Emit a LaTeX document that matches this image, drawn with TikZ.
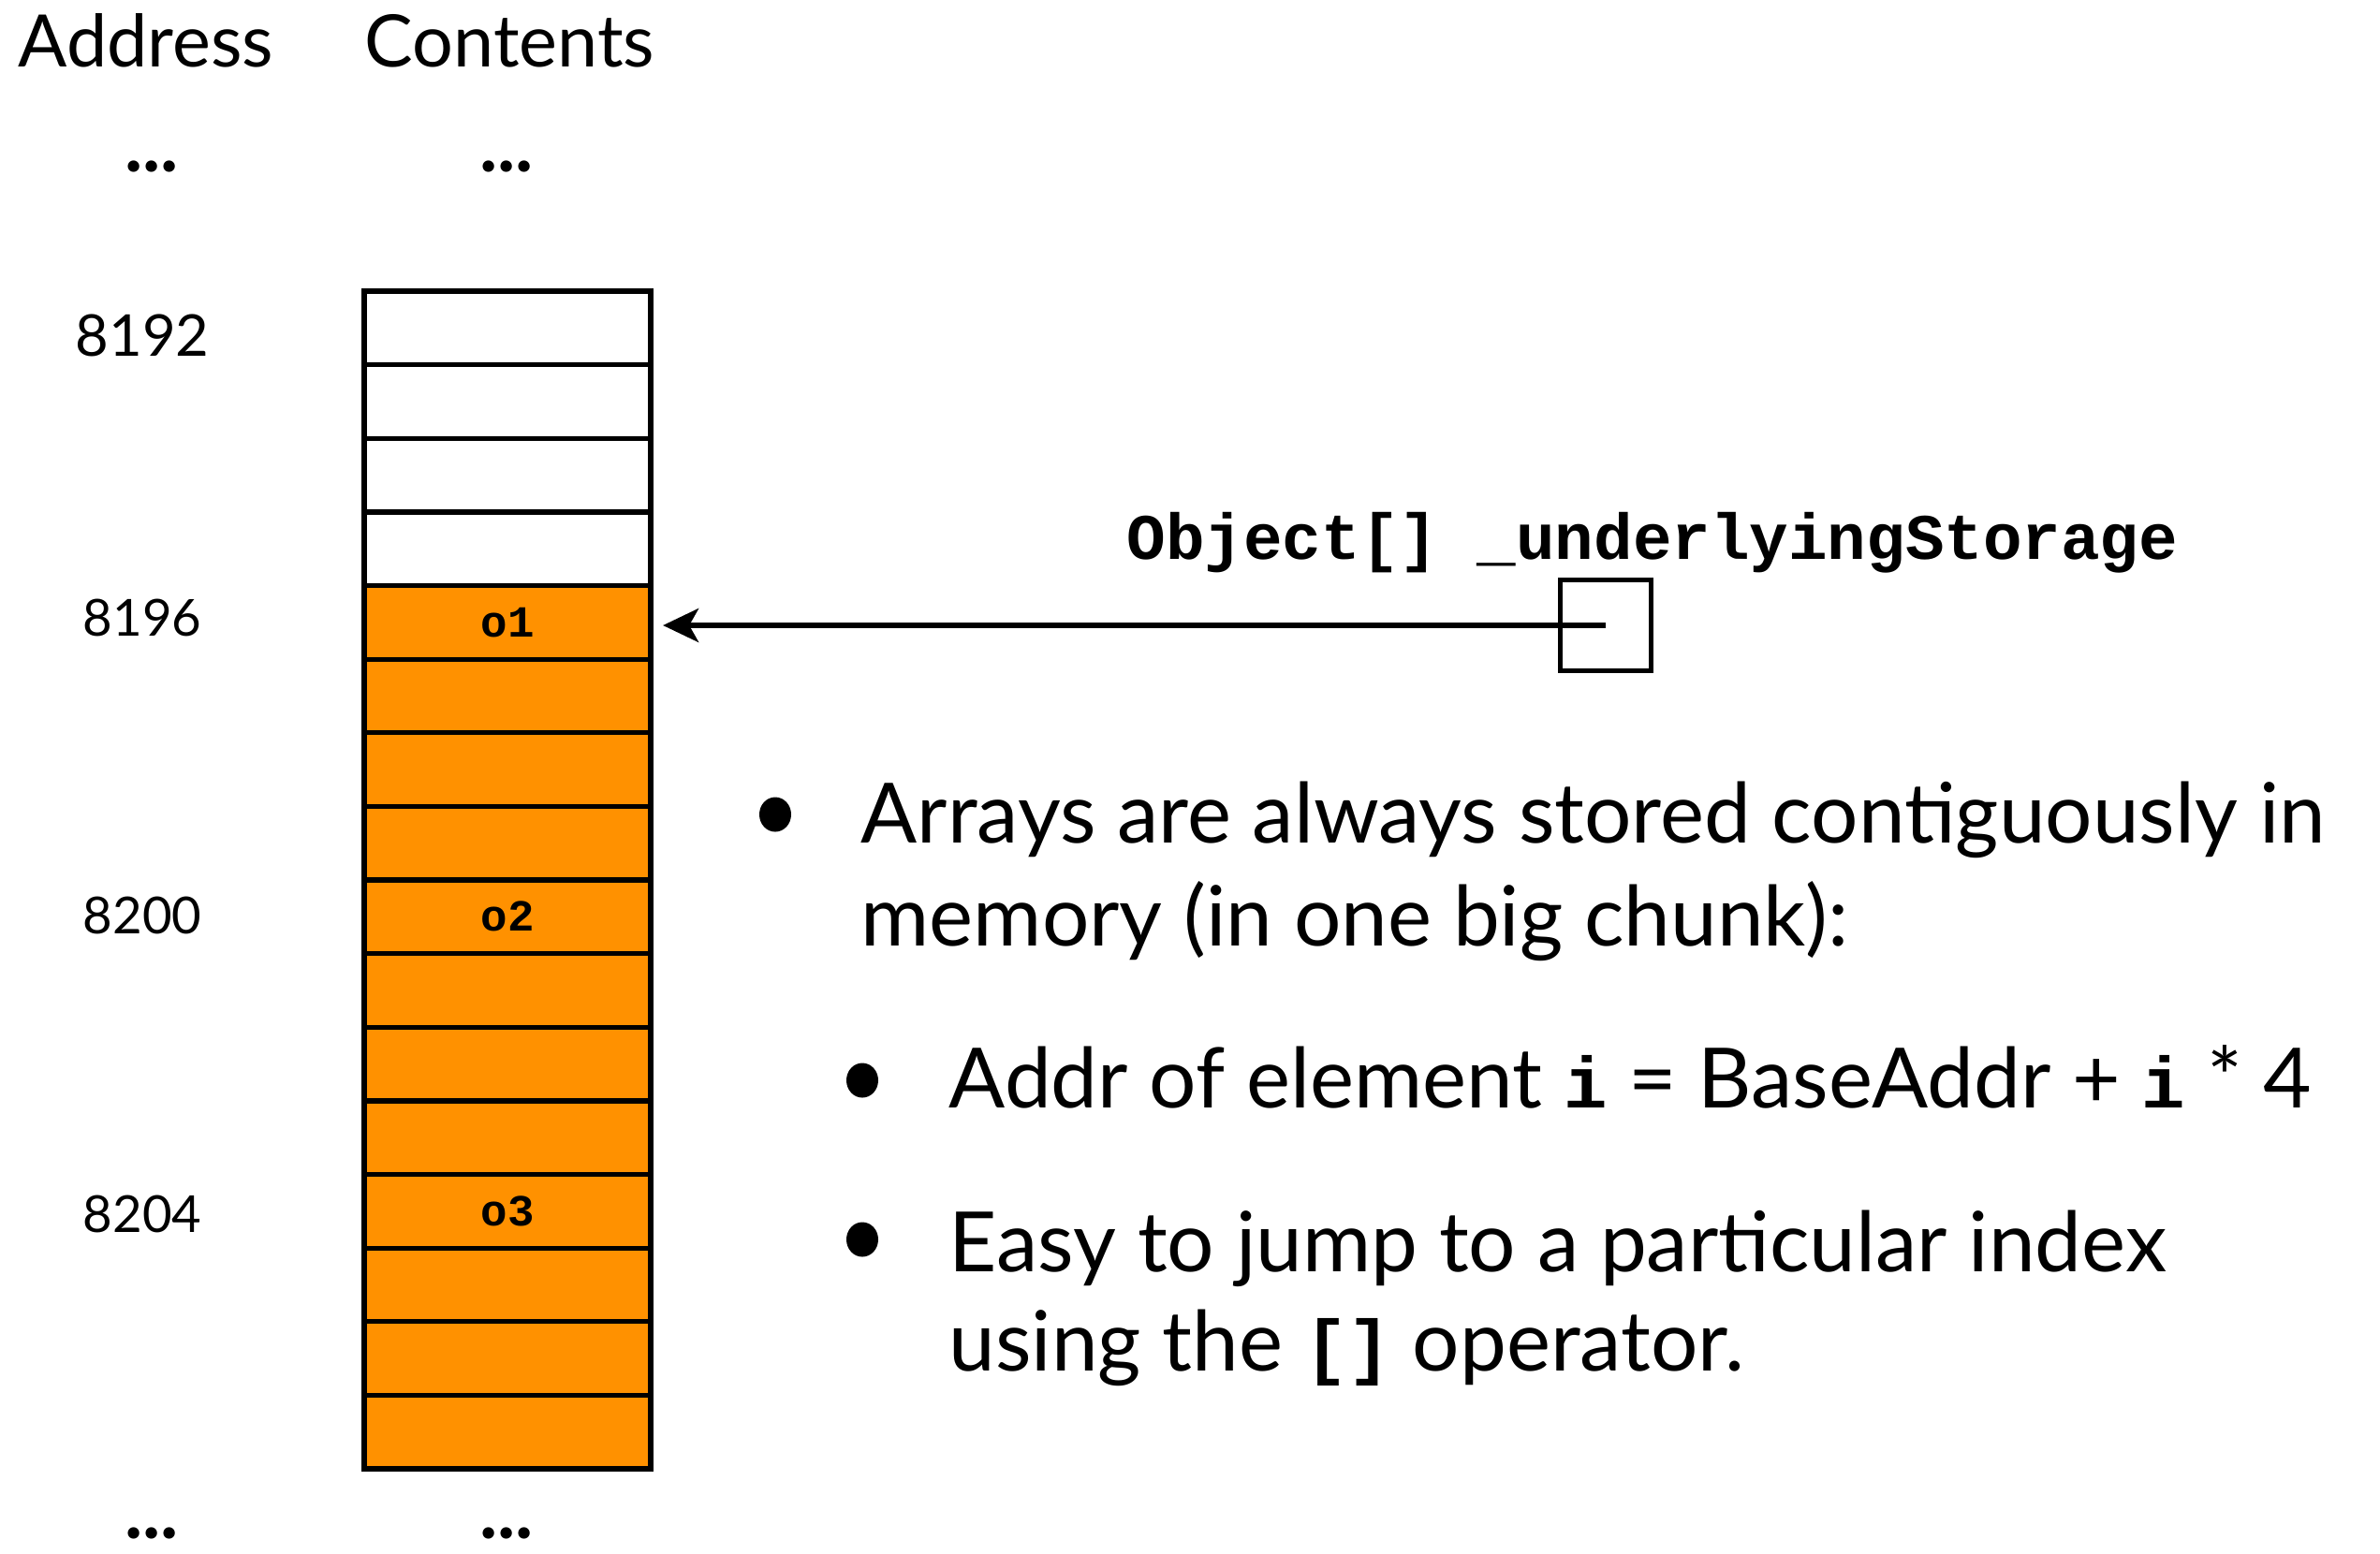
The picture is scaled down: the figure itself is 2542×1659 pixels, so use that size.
\documentclass[tikz,border=0pt]{standalone}
\usepackage{fontspec}
\setmainfont{Lato}
\setmonofont{Liberation Mono}
\usetikzlibrary{arrows.meta,shapes.geometric}
\definecolor{cellorange}{RGB}{255,145,0}
\newcommand\pxsize[1]{\fontsize{#1}{#1}\selectfont}
\newcommand\code[1]{{\pxsize{22pt}\ttfamily\bfseries #1}}
\begin{document}
\begin{tikzpicture}[x=0.01cm,y=-0.01cm,
  cell/.style={draw,line width=1.5pt,minimum width=3.06cm,minimum height=0.786cm,
    inner sep=0pt,outer sep=0pt},
  used/.style={cell,fill=cellorange},
  free/.style={cell,fill=white},
  slotbox/.style={draw,line width=1.5pt,minimum size=0.97cm,inner sep=0pt},
  head/.style={anchor=base west,inner sep=0pt,font=\pxsize{22pt}},
  addr/.style={inner sep=0pt,font=\pxsize{15.5pt}},
  elem/.style={font=\pxsize{13.5pt}\ttfamily\bfseries},
  dots/.style={inner sep=0pt,font=\pxsize{23pt}\bfseries},
  body/.style={anchor=base west,inner sep=0pt,font=\pxsize{25.3pt}},
  dot/.style={ellipse,fill,minimum width=0.34cm,minimum height=0.37cm,inner sep=0pt},
  link/.style={line width=1.5pt,-{Stealth[length=0.38cm,width=0.36cm,inset=0.1cm]}}
]
\useasboundingbox (0,0) rectangle (2542,1659);

% column headings
\node[head] (haddr) at (19,71) {Address};
\node[head] (hcont) at (389,71) {Contents};
\node[dots] (adots1) at (162,178) {...};
\node[dots] (cdots1) at (541,178) {...};

% memory cells: four free words, then the array
\foreach \i in {0,...,15}{
  \pgfmathsetmacro\cy{311+78.625*(\i+0.5)}
  \ifnum\i<4
    \node[free] (c\i) at (542,\cy) {};
  \else
    \node[used] (c\i) at (542,\cy) {};
  \fi
}
\node[elem] (e1) at (c4.center) {o1};
\node[elem] (e2) at (c8.center) {o2};
\node[elem] (e3) at (c12.center) {o3};

% addresses
\node[addr,font=\pxsize{17.5pt}] (a0) at (152,358) {8192};
\node[addr] (a4) at (152,660) {8196};
\node[addr] (a8) at (152,978) {8200};
\node[addr] (a12) at (152,1297) {8204};

\node[dots] (adots2) at (162,1638) {...};
\node[dots] (cdots2) at (541,1638) {...};

% reference variable
\node[anchor=base west,inner sep=0pt,font=\pxsize{19.7pt}\ttfamily\bfseries] (var) at (1203,597) {Object[] \_underlyingStorage};
\node[slotbox] (slot) at (1715,668) {};
\draw[link,shorten >=0.13cm] (slot.center) -- (slot.center -| c4.east);

% notes
\node[dot] (b1) at (828,870) {};
\node[body] (t1a) at (919,900) {Arrays are always stored contiguously in};
\node[body] (t1b) at (919,1010) {memory (in one big chunk):};
\node[dot] (b2) at (921,1154) {};
\node[body] (t2) at (1013,1183) {Addr of element \code{i} = BaseAddr + \code{i} * 4};
\node[dot] (b3) at (921,1324) {};
\node[body] (t3a) at (1013,1358) {Easy to jump to a particular index};
\node[body] (t3b) at (1013,1464) {using the \code{[]} operator.};
\end{tikzpicture}
\end{document}
